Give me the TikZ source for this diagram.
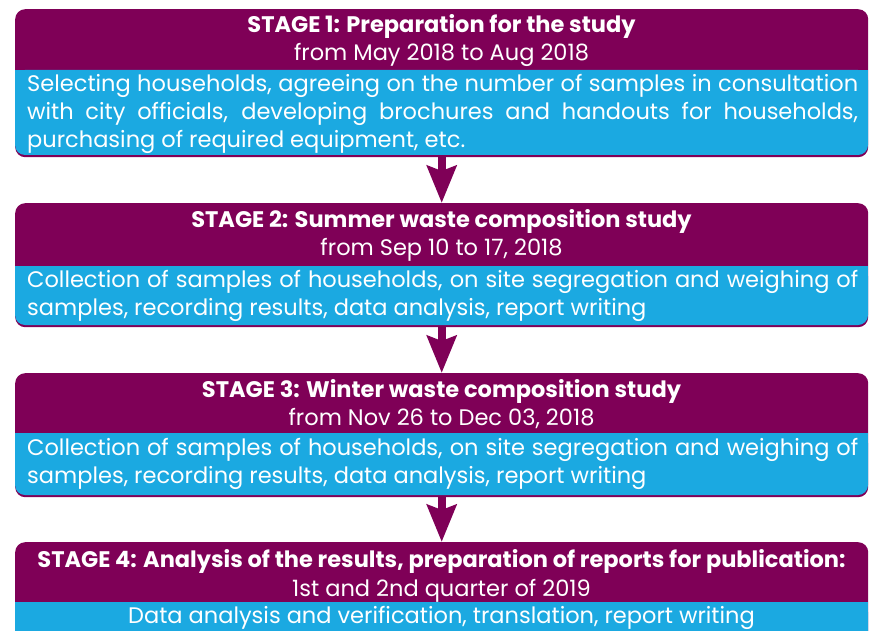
\documentclass[tikz,border=0pt]{standalone}
\usepackage{fontspec}
\setmainfont{Poppins}
\usetikzlibrary{arrows.meta}
\definecolor{stagepurple}{HTML}{7F0057}
\definecolor{stageblue}{HTML}{1BA9E1}
\tikzset{
  stagebox/.style={fill=stagepurple, rounded corners=10pt, minimum width=853pt,
    inner sep=0pt, anchor=north west},
  bluefill/.style={fill=stageblue},
  headtext/.style={text=white, font=\bfseries\fontsize{22.5}{22.5}\selectfont, anchor=base, inner sep=0pt},
  datetext/.style={text=white, font=\fontsize{22.5}{22.5}\selectfont, anchor=base, inner sep=0pt},
  bodyline/.style={text=white, font=\fontsize{22.5}{22.5}\selectfont, anchor=base west, inner sep=0pt},
  flowarrow/.style={draw=stagepurple, line width=8pt,
    -{Stealth[width=29pt,length=37pt,inset=5pt]}}
}
\begin{document}
\begin{tikzpicture}[x=1pt,y=-1pt]
\useasboundingbox (0,0) rectangle (869,631);
\clip (0,0) rectangle (869,631);

% stage frames
\node[stagebox, minimum height=148pt] (box1) at (15,9) {};
\node[stagebox, minimum height=124pt] (box2) at (15,203) {};
\node[stagebox, minimum height=124pt] (box3) at (15,373) {};
\node[stagebox, minimum height=110pt] (box4) at (15,542) {};

% blue description panels
\fill[bluefill, rounded corners=10pt] (15,70) rectangle (868,155);
\fill[bluefill] (15,70) rectangle (868,100);
\fill[bluefill, rounded corners=10pt] (15,266) rectangle (868,325);
\fill[bluefill] (15,266) rectangle (868,290);
\fill[bluefill, rounded corners=10pt] (15,433) rectangle (868,495);
\fill[bluefill] (15,433) rectangle (868,460);
\fill[bluefill, rounded corners=10pt] (15,602) rectangle (868,650);
\fill[bluefill] (15,602) rectangle (868,620);

% stage 1
\node[headtext] (h1) at (441.5,33) {STAGE 1: Preparation for the study};
\node[datetext] (d1) at (441.5,61) {from May 2018 to Aug 2018};
\node[bodyline] (b1a) at (27,92) {\makebox[831pt][s]{Selecting households, agreeing on the number of samples in consultation}};
\node[bodyline] (b1b) at (27,120) {\makebox[831pt][s]{with city officials, developing brochures and handouts for households,}};
\node[bodyline] (b1c) at (27,148) {purchasing of required equipment, etc.};

% stage 2
\node[headtext] (h2) at (441.5,227) {STAGE 2: Summer waste composition study};
\node[datetext] (d2) at (441.5,255) {from Sep 10 to 17, 2018};
\node[bodyline] (b2a) at (27,287) {\makebox[831pt][s]{Collection of samples of households, on site segregation and weighing of}};
\node[bodyline] (b2b) at (27,315) {samples, recording results, data analysis, report writing};

% stage 3
\node[headtext] (h3) at (441.5,397) {STAGE 3: Winter waste composition study};
\node[datetext] (d3) at (441.5,425) {from Nov 26 to Dec 03, 2018};
\node[bodyline] (b3a) at (27,455) {\makebox[831pt][s]{Collection of samples of households, on site segregation and weighing of}};
\node[bodyline] (b3b) at (27,483) {samples, recording results, data analysis, report writing};

% stage 4
\node[headtext] (h4) at (441.5,567) {STAGE 4: Analysis of the results, preparation of reports for publication:};
\node[datetext] (d4) at (441.5,596) {1st and 2nd quarter of 2019};
\node[datetext] (b4a) at (441.5,623.5) {Data analysis and verification, translation, report writing};

% flow between stages
\draw[flowarrow] (box1.south) -- (box2.north);
\draw[flowarrow] (box2.south) -- (box3.north);
\draw[flowarrow] (box3.south) -- (box4.north);
\end{tikzpicture}
\end{document}
